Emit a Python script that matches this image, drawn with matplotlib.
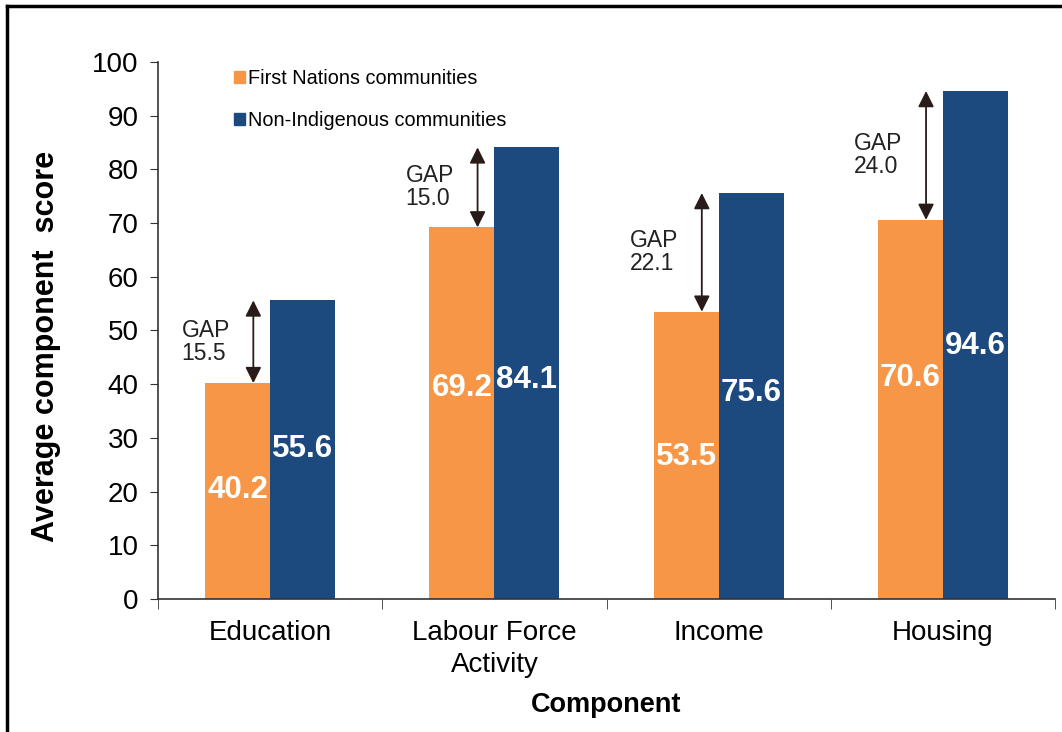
import matplotlib.pyplot as plt
from matplotlib.patches import Patch
from matplotlib.lines import Line2D
import numpy as np

plt.rcParams['font.family'] = ['Liberation Sans', 'DejaVu Sans']

# data
components = ['Education', 'Labour Force\nActivity', 'Income', 'Housing']
first_nations = [40.2, 69.2, 53.5, 70.6]
non_indigenous = [55.6, 84.1, 75.6, 94.6]
gaps = [15.5, 15.0, 22.1, 24.0]

# heights where the value labels sit inside the bars
fn_label_y = [20.3, 39.3, 26.4, 41.2]
ni_label_y = [27.9, 40.8, 38.4, 47.1]

ORANGE = '#F79646'
BLUE = '#1C4A7F'
ARROW = '#2A1B1B'

fig = plt.figure(figsize=(10.62, 7.32), dpi=100)
ax = fig.add_axes([0.1488, 0.1817, 0.8446, 0.7336])

x = np.arange(len(components))
w = 0.29
ax.bar(x - w / 2, first_nations, w, color=ORANGE)
ax.bar(x + w / 2, non_indigenous, w, color=BLUE)

# value labels inside the bars
for xi, v, ly in zip(x, first_nations, fn_label_y):
    ax.text(xi - w / 2, ly, f'{v:.1f}', ha='center', va='center',
            color='white', fontsize=22.5, fontweight='bold')
for xi, v, ly in zip(x, non_indigenous, ni_label_y):
    ax.text(xi + w / 2, ly, f'{v:.1f}', ha='center', va='center',
            color='white', fontsize=22.5, fontweight='bold')

# gap arrows
for xi, lo, hi, g in zip(x, first_nations, non_indigenous, gaps):
    ax_x = xi - 0.075
    ax.annotate('', xy=(ax_x, hi), xytext=(ax_x, lo),
                arrowprops=dict(arrowstyle='<|-|>', color=ARROW, lw=1.3,
                                mutation_scale=24, shrinkA=0, shrinkB=0))
    ax.text(ax_x - 0.105, (lo + hi) / 2, f'GAP\n{g:.1f}', ha='right', va='center',
            fontsize=16.5, color='#222222', multialignment='left', linespacing=1.0)

ax.set_xlim(-0.5, len(components) - 0.5)
ax.set_ylim(0, 100)
ax.set_yticks(np.arange(0, 101, 10))
ax.set_xticks(x)
ax.set_xticklabels(components, fontsize=20, linespacing=1.3)
ax.tick_params(axis='x', length=0, pad=15)
ax.set_xticks(np.arange(-0.5, len(components), 1), minor=True)
ax.tick_params(axis='x', which='minor', length=7, direction='out', color='#333333')
ax.tick_params(axis='y', labelsize=20, length=6, color='#333333', pad=8)

for s in ['top', 'right']:
    ax.spines[s].set_visible(False)
for s in ['left', 'bottom']:
    ax.spines[s].set_color('#333333')
    ax.spines[s].set_linewidth(1.2)

ax.set_ylabel('Average component  score', fontsize=22, fontweight='bold')
ax.yaxis.set_label_coords(-0.108, 0.47)
ax.set_xlabel('Component', fontsize=19.5, fontweight='bold', labelpad=10)

handles = [Patch(color=ORANGE), Patch(color=BLUE)]
ax.legend(handles, ['First Nations communities', 'Non-Indigenous communities'],
          loc='upper left', bbox_to_anchor=(0.065, 1.02), frameon=False, fontsize=14.3,
          handlelength=0.55, handleheight=0.55, handletextpad=0.15, labelspacing=1.15)

# frame lines of the original image (left and top only)
fig.add_artist(Line2D([0.0065, 0.0065], [0, 0.992], transform=fig.transFigure, color='black', lw=2.5))
fig.add_artist(Line2D([0.0065, 1.0], [0.992, 0.992], transform=fig.transFigure, color='black', lw=2.5))

fig.savefig('out.png', dpi=100)
